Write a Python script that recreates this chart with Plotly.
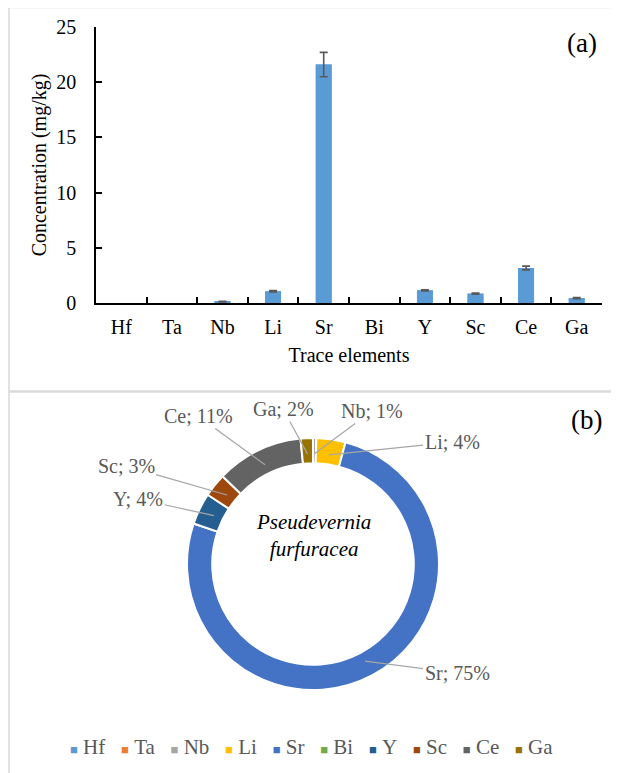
import math
import plotly.graph_objects as go

# ---- data ----
elements = ["Hf", "Ta", "Nb", "Li", "Sr", "Bi", "Y", "Sc", "Ce", "Ga"]
concentration = [0.0, 0.0, 0.12, 1.06, 21.6, 0.0, 1.15, 0.85, 3.17, 0.45]
conc_error = [0.0, 0.0, 0.03, 0.06, 1.1, 0.0, 0.05, 0.05, 0.17, 0.05]
pie_label_pct = [0, 0, 1, 4, 75, 0, 4, 3, 11, 2]
slice_colors = ["#5B9BD5", "#ED7D31", "#A5A5A5", "#FFC000", "#4472C4",
                "#70AD47", "#255E91", "#9E480E", "#636363", "#997300"]
y_ticks = [0, 5, 10, 15, 20, 25]

# ---- layout helpers (reference pixel -> paper; page has an 8px body margin) ----
OX, OY = 8, 8
W, H = 611, 765

def px(x):
    return (x - OX) / W

def py(y):
    return 1 - (y - OY) / H

SERIF = "Liberation Serif"
GRAY_TXT = "#595959"
FS = 20

fig = go.Figure()

# bars
fig.add_trace(go.Bar(
    x=elements, y=concentration,
    marker=dict(color="#5B9BD5", line=dict(width=0)),
    showlegend=False, xaxis="x", yaxis="y",
))
# error bars only where an error exists (overlaid on the same bars)
err_idx = [i for i, e in enumerate(conc_error) if e > 0]
fig.add_trace(go.Bar(
    x=[elements[i] for i in err_idx], y=[concentration[i] for i in err_idx],
    marker=dict(color="#5B9BD5", line=dict(width=0)),
    error_y=dict(type="data", array=[conc_error[i] for i in err_idx], visible=True,
                 color="#595959", thickness=1.6, width=4),
    showlegend=False, xaxis="x", yaxis="y", hoverinfo="skip",
))

# pie geometry (reference pixels)
pc_x, pc_y, pR = 313, 564, 126
fig.add_trace(go.Pie(
    labels=elements, values=concentration,
    marker=dict(colors=slice_colors, line=dict(color="white", width=2)),
    hole=0.8, sort=False, direction="clockwise", rotation=0,
    textinfo="none", showlegend=False, automargin=False,
    domain=dict(x=[px(pc_x - pR), px(pc_x + pR)], y=[py(pc_y + pR), py(pc_y - pR)]),
))

# pie labels with leader lines, tips at slice mid-angles
label_pos = {"Ce": (198, 416), "Ga": (283, 409), "Nb": (372, 411), "Li": (452, 442),
             "Sc": (126, 466), "Y": (138, 499), "Sr": (457, 673)}
total = sum(concentration)
cum = 0.0
annotations = []
for name, v, pct in zip(elements, concentration, pie_label_pct):
    start = cum
    cum += v
    if v <= 0:
        continue
    mid = (start + cum) / 2 / total * 2 * math.pi
    r_tip = 0.875 * pR
    tx = pc_x + r_tip * math.sin(mid)
    ty = pc_y - r_tip * math.cos(mid)
    lx, ly = label_pos[name]
    annotations.append(dict(
        x=px(tx), y=py(ty), xref="paper", yref="paper",
        ax=lx - tx, ay=ly - ty, axref="pixel", ayref="pixel",
        xanchor="center", yanchor="middle",
        text=f"{name}; {pct}%", showarrow=True, arrowhead=0,
        arrowcolor="#A6A6A6", arrowwidth=1.2,
        font=dict(family=SERIF, size=FS, color=GRAY_TXT),
    ))

# legend row (text with coloured square glyphs)
NB = "\u00a0"
legend_items = [f"<span style='color:{c};font-size:13px'>\u25a0</span>{NB}{n}"
                for n, c in zip(elements, slice_colors)]
legend_text = (NB * 3).join(legend_items)

common = dict(xref="paper", yref="paper", showarrow=False, xanchor="center", yanchor="middle")
annotations += [
    dict(x=px(582), y=py(43), text="(a)",
         font=dict(family=SERIF, size=27, color="black"), **common),
    dict(x=px(586), y=py(420), text="(b)",
         font=dict(family=SERIF, size=27, color="black"), **common),
    dict(x=px(313), y=py(535), text="<i>Pseudevernia<br>furfuracea</i>",
         font=dict(family=SERIF, size=21, color="black"), **common),
    dict(x=px(311), y=py(747), text=legend_text,
         font=dict(family=SERIF, size=21, color=GRAY_TXT), **common),
]

shapes = [
    dict(type="rect", xref="paper", yref="paper", x0=px(9), x1=1.05, y0=py(391), y1=py(7.5),
         line=dict(color="#D9D9D9", width=1.5)),
    dict(type="rect", xref="paper", yref="paper", x0=px(9), x1=1.05, y0=-0.05, y1=py(392),
         line=dict(color="#D9D9D9", width=1.5)),
]

fig.update_layout(
    width=W, height=H, margin=dict(l=0, r=0, t=0, b=0, pad=0, autoexpand=False),
    paper_bgcolor="white", plot_bgcolor="white",
    font=dict(family=SERIF, size=FS, color="black"),
    bargap=0.686, barmode="overlay", showlegend=False,
    xaxis=dict(domain=[px(96), px(602)], showline=True, linecolor="black", linewidth=1.5,
               ticks="inside", ticklen=6, tickwidth=1.5, tickcolor="black",
               tickson="boundaries", ticklabelstandoff=5, showgrid=False, automargin=False,
               categoryorder="array", categoryarray=elements,
               title=dict(text="Trace elements", standoff=11, font=dict(size=FS)),
               anchor="y"),
    yaxis=dict(domain=[py(303), py(27)], range=[0, 25], tickvals=y_ticks,
               showline=True, linecolor="black", linewidth=1.5,
               ticks="inside", ticklen=6, tickwidth=1.5, tickcolor="black",
               ticklabelstandoff=14, showgrid=False, zeroline=False, automargin=False,
               title=dict(text="Concentration (mg/kg)", standoff=4, font=dict(size=FS)),
               anchor="x"),
    annotations=annotations, shapes=shapes,
)

fig.write_html("out.html")
